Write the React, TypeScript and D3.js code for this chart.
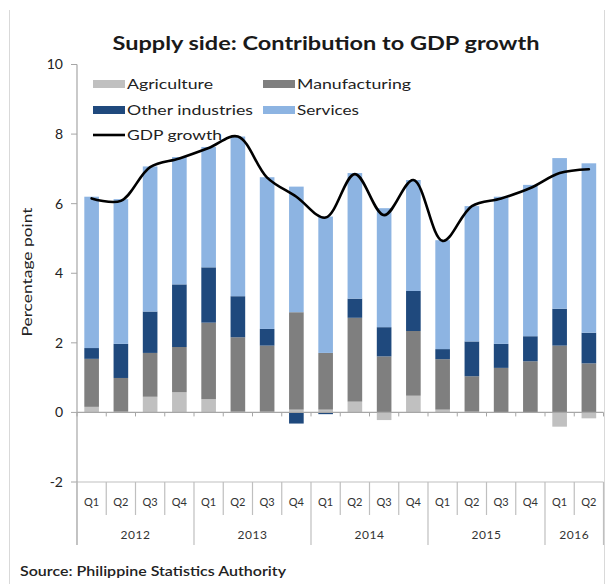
import React from 'react';
import * as d3 from 'd3';

const quarters = ['Q1','Q2','Q3','Q4','Q1','Q2','Q3','Q4','Q1','Q2','Q3','Q4','Q1','Q2','Q3','Q4','Q1','Q2'];
const years = ['2012','2013','2014','2015','2016'];
const yearSpans = [4, 4, 4, 4, 2];
const agriculture = [0.16, 0.02, 0.45, 0.58, 0.38, 0.02, 0.02, 0.08, 0.08, 0.31, -0.22, 0.48, 0.08, 0.02, 0.0, 0.0, -0.41, -0.17];
const manufacturing = [1.38, 0.97, 1.26, 1.30, 2.20, 2.14, 1.90, 2.80, 1.63, 2.41, 1.61, 1.86, 1.45, 1.02, 1.28, 1.47, 1.92, 1.41];
const otherIndustries = [0.31, 0.98, 1.19, 1.80, 1.59, 1.18, 0.48, -0.32, -0.05, 0.55, 0.84, 1.15, 0.29, 1.00, 0.69, 0.72, 1.06, 0.88];
const services = [4.35, 4.16, 4.17, 3.66, 3.46, 4.59, 4.36, 3.61, 3.92, 3.61, 3.42, 3.19, 3.13, 3.89, 4.23, 4.35, 4.33, 4.87];
const gdpGrowth = [6.15, 6.08, 7.05, 7.3, 7.6, 7.93, 6.75, 6.2, 5.6, 6.85, 5.67, 6.68, 4.93, 5.93, 6.15, 6.45, 6.88, 6.99];
const yTicks = [-2, 0, 2, 4, 6, 8, 10];
const seriesNames = ['Agriculture', 'Manufacturing', 'Other industries', 'Services'];
const seriesColors = ['#c0c0c0', '#7f7f7f', '#1f497d', '#8db4e2'];

const FONT = 'Lato, "Open Sans", sans-serif';

export default function App() {
  const left = 77, right = 603.5;
  const n = quarters.length;
  const step = (right - left) / n;
  const idx = d3.range(n);
  const x = d3.scaleBand<number>().domain(idx).range([left, right]).paddingInner(0.5).paddingOuter(0.25);
  const y = d3.scaleLinear().domain([-2, 10]).range([482, 64.5]);

  const rows = idx.map(i => ({
    a: agriculture[i], m: manufacturing[i], o: otherIndustries[i], s: services[i],
  }));
  const keys = ['a', 'm', 'o', 's'];
  const stacked = d3.stack<any>().keys(keys).offset(d3.stackOffsetDiverging)(rows);

  const line = d3.line<number>()
    .x(i => (x(i) as number) + x.bandwidth() / 2)
    .y(i => y(gdpGrowth[i]))
    .curve(d3.curveCatmullRom.alpha(0.5));

  const yearStarts: number[] = [];
  let acc = 0;
  yearSpans.forEach(s => { yearStarts.push(acc); acc += s; });
  const yearBoundaries = new Set<number>([...yearStarts, n]);

  const legendItems = [
    { label: seriesNames[0], color: seriesColors[0], x: 93, y: 84, len: 86 },
    { label: seriesNames[1], color: seriesColors[1], x: 263, y: 84, len: 114 },
    { label: seriesNames[2], color: seriesColors[2], x: 93, y: 110, len: 126 },
    { label: seriesNames[3], color: seriesColors[3], x: 263, y: 110, len: 62 },
  ];

  return (
    <svg width={610} height={584} style={{ position: 'absolute', left: 0, top: 0, background: '#fff' }} fontFamily={FONT}>
      <rect x={0} y={0} width={610} height={584} fill="#fff" />
      {/* frame */}
      <line x1={9.5} x2={9.5} y1={10} y2={584} stroke="#d9d9d9" />
      <line x1={604.5} x2={604.5} y1={10} y2={584} stroke="#d9d9d9" />

      {/* title */}
      <text x={326} y={50} textAnchor="middle" fontSize={19} fontWeight="bold" fill="#1a1a1a" textLength={427} lengthAdjust="spacingAndGlyphs">Supply side: Contribution to GDP growth</text>

      {/* bars */}
      {stacked.map((layer, li) => (
        <g key={li} fill={seriesColors[li]}>
          {layer.map((d, i) => {
            const y0 = y(d[0]), y1 = y(d[1]);
            const h = Math.abs(y0 - y1);
            if (h < 0.01) return null;
            return <rect key={i} x={x(i)} width={x.bandwidth()} y={Math.min(y0, y1)} height={h} />;
          })}
        </g>
      ))}

      {/* zero line and ticks */}
      <line x1={left} x2={right} y1={y(0)} y2={y(0)} stroke="#a6a6a6" strokeWidth={1.2} />
      {d3.range(n + 1).map(i => (
        <line key={i} x1={left + i * step} x2={left + i * step} y1={y(0)} y2={y(0) + 4} stroke="#a6a6a6" />
      ))}
      {/* bottom line */}
      <line x1={left} x2={right} y1={y(-2)} y2={y(-2)} stroke="#bfbfbf" strokeWidth={1.2} />

      {/* y axis */}
      <line x1={left} x2={left} y1={y(10)} y2={545} stroke="#a6a6a6" strokeWidth={1.2} />
      {yTicks.map(t => (
        <g key={t}>
          <line x1={left - 6} x2={left} y1={y(t)} y2={y(t)} stroke="#a6a6a6" />
          <text x={63} y={y(t)} dy="0.35em" textAnchor="end" fontSize={14} fill="#222">{t}</text>
        </g>
      ))}
      <text transform={`translate(27,272) rotate(-90)`} textAnchor="middle" dy="0.35em" fontSize={14} fill="#222" textLength={129} lengthAdjust="spacingAndGlyphs">Percentage point</text>

      {/* category separators */}
      {d3.range(n + 1).map(i => (
        <line key={i} x1={left + i * step} x2={left + i * step} y1={482} y2={yearBoundaries.has(i) ? 545 : 515} stroke="#bfbfbf" strokeWidth={1.2} />
      ))}
      {quarters.map((q, i) => (
        <text key={i} x={left + (i + 0.5) * step} y={502} dy="0.35em" textAnchor="middle" fontSize={11} fill="#333">{q}</text>
      ))}
      {years.map((yr, k) => (
        <text key={yr} x={left + (yearStarts[k] + yearSpans[k] / 2) * step} y={535} dy="0.35em" textAnchor="middle" fontSize={12} fill="#333" letterSpacing={0.5}>{yr}</text>
      ))}

      {/* GDP line */}
      <path d={line(idx) as string} fill="none" stroke="#000" strokeWidth={2.6} strokeLinejoin="round" strokeLinecap="round" />

      {/* legend */}
      {legendItems.map(it => (
        <g key={it.label}>
          <rect x={it.x} y={it.y - 4} width={32} height={8} fill={it.color} />
          <text x={it.x + 34} y={it.y} dy="0.35em" fontSize={14} fill="#222" textLength={it.len} lengthAdjust="spacingAndGlyphs">{it.label}</text>
        </g>
      ))}
      <line x1={93} x2={125} y1={135} y2={135} stroke="#000" strokeWidth={2.6} />
      <text x={127} y={135} dy="0.35em" fontSize={14} fill="#222" textLength={95} lengthAdjust="spacingAndGlyphs">GDP growth</text>

      {/* source */}
      <text x={20} y={576} fontSize={13} fontWeight={600} fill="#222" textLength={266} lengthAdjust="spacingAndGlyphs">Source: Philippine Statistics Authority</text>
    </svg>
  );
}
